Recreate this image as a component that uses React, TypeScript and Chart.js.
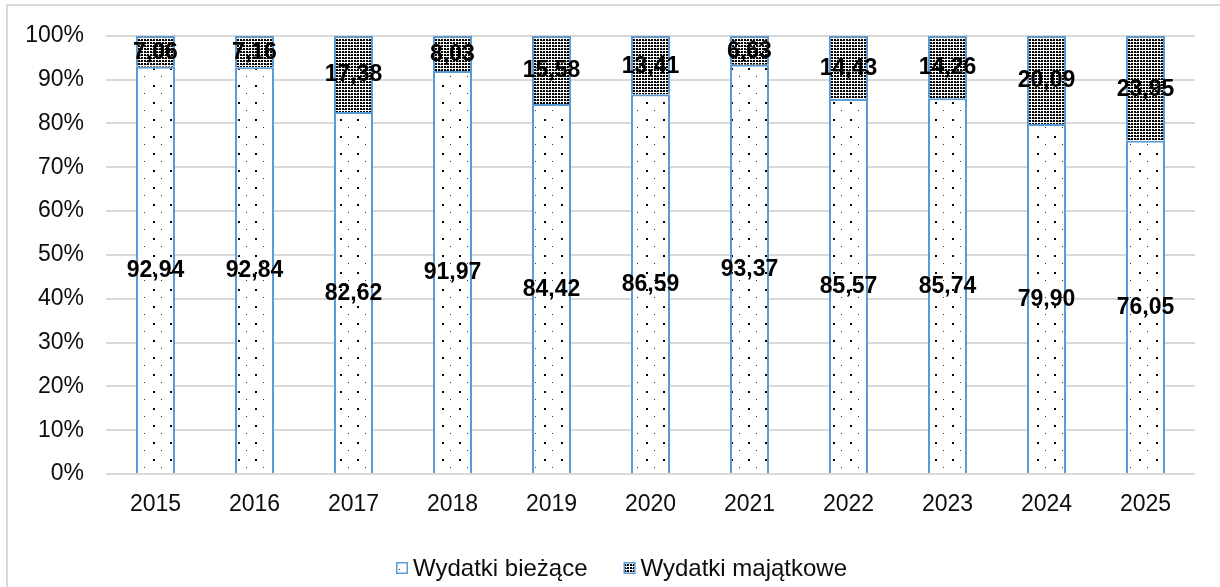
import React, { useEffect, useRef } from 'react';
import { Chart, registerables } from 'chart.js';

Chart.register(...registerables);

// ---- data ----
const years = ['2015', '2016', '2017', '2018', '2019', '2020', '2021', '2022', '2023', '2024', '2025'];
const currentExpenses = [92.94, 92.84, 82.62, 91.97, 84.42, 86.59, 93.37, 85.57, 85.74, 79.9, 76.05];
const capitalExpenses = [7.06, 7.16, 17.38, 8.03, 15.58, 13.41, 6.63, 14.43, 14.26, 20.09, 23.95];
const seriesNames = ['Wydatki bieżące', 'Wydatki majątkowe'];
const yMin = 0;
const yMax = 100;
const yStep = 10;

// ---- styles ----
const FONT_FAMILY = 'Arial, "Liberation Sans", sans-serif';
const TEXT_COLOR = '#0d0d0d';
const BORDER_BLUE = '#5B9BD5';
const GRID_COLOR = '#d9d9d9';
const W = 1220;
const H = 587;
const X_AXIS_H = 60;

function makeSparsePattern(ctx: CanvasRenderingContext2D): CanvasPattern | string {
  const c = document.createElement('canvas');
  c.width = 17;
  c.height = 17;
  const g = c.getContext('2d');
  if (!g) return '#fff';
  g.fillStyle = '#ffffff';
  g.fillRect(0, 0, 17, 17);
  g.fillStyle = '#000000';
  g.fillRect(0, 0, 2, 2);
  g.fillStyle = '#333333';
  g.fillRect(8, 8, 1, 1);
  return ctx.createPattern(c, 'repeat') || '#fff';
}

function makeDensePattern(ctx: CanvasRenderingContext2D): CanvasPattern | string {
  const c = document.createElement('canvas');
  c.width = 6;
  c.height = 3;
  const g = c.getContext('2d');
  if (!g) return '#888';
  g.fillStyle = '#ffffff';
  g.fillRect(0, 0, 6, 3);
  g.fillStyle = '#000000';
  g.fillRect(0, 0, 2, 2);
  g.fillRect(3, 0, 2, 2);
  g.fillStyle = '#555555';
  g.fillRect(2, 1, 1, 1);
  return ctx.createPattern(c, 'repeat') || '#888';
}

const framePlugin = {
  id: 'frame',
  beforeDraw(chart: any) {
    const ctx = chart.ctx as CanvasRenderingContext2D;
    ctx.save();
    ctx.fillStyle = '#ffffff';
    ctx.fillRect(0, 0, chart.width, chart.height);
    ctx.strokeStyle = GRID_COLOR;
    ctx.lineWidth = 2;
    ctx.beginPath();
    ctx.moveTo(7, chart.height);
    ctx.lineTo(7, 5);
    ctx.lineTo(chart.width, 5);
    ctx.stroke();
    ctx.restore();
  },
};

const valueLabelsPlugin = {
  id: 'valueLabels',
  afterDatasetsDraw(chart: any) {
    const ctx = chart.ctx as CanvasRenderingContext2D;
    ctx.save();
    ctx.font = `bold 23px ${FONT_FAMILY}`;
    ctx.fillStyle = '#000000';
    ctx.textAlign = 'center';
    ctx.textBaseline = 'middle';
    chart.data.datasets.forEach((ds: any, di: number) => {
      const meta = chart.getDatasetMeta(di);
      meta.data.forEach((el: any, i: number) => {
        const v = ds.data[i] as number;
        const p = el.getProps(['x', 'y', 'base'], true);
        ctx.fillText(v.toFixed(2).replace('.', ','), p.x, (p.y + p.base) / 2 + 1);
      });
    });
    ctx.restore();
  },
};

const legendPlugin = {
  id: 'customLegend',
  afterDraw(chart: any) {
    const ctx = chart.ctx as CanvasRenderingContext2D;
    ctx.save();
    ctx.font = `24px ${FONT_FAMILY}`;
    ctx.textBaseline = 'middle';
    ctx.textAlign = 'left';
    const box = 12;
    const gapText = 5;
    const gapItem = 36;
    const centerX = 621.5;
    const cy = 568;
    const items = chart.data.datasets.map((ds: any) => ({
      label: ds.label as string,
      fill: ds.backgroundColor,
      stroke: ds.borderColor,
    }));
    const widths = items.map((it: any) => box + gapText + ctx.measureText(it.label).width);
    const total = widths.reduce((a: number, b: number) => a + b, 0) + gapItem * (items.length - 1);
    let x = Math.round(centerX - total / 2);
    items.forEach((it: any, i: number) => {
      ctx.fillStyle = it.fill;
      ctx.fillRect(x, cy - box / 2, box, box);
      ctx.strokeStyle = it.stroke;
      ctx.lineWidth = 1.5;
      ctx.strokeRect(x + 0.75, cy - box / 2 + 0.75, box - 1.5, box - 1.5);
      ctx.fillStyle = TEXT_COLOR;
      ctx.fillText(it.label, x + box + gapText, cy + 1);
      x += widths[i] + gapItem;
    });
    ctx.restore();
  },
};

export default function App() {
  const canvasRef = useRef<HTMLCanvasElement | null>(null);

  useEffect(() => {
    const canvas = canvasRef.current;
    if (!canvas) return;
    const ctx = canvas.getContext('2d');
    if (!ctx) return;
    const sparse = makeSparsePattern(ctx);
    const dense = makeDensePattern(ctx);

    const chart = new Chart(ctx, {
      type: 'bar',
      data: {
        labels: years,
        datasets: [
          {
            label: seriesNames[0],
            data: currentExpenses,
            backgroundColor: sparse as any,
            borderColor: BORDER_BLUE,
            borderWidth: 2,
            barPercentage: 0.394,
            categoryPercentage: 1,
          },
          {
            label: seriesNames[1],
            data: capitalExpenses,
            backgroundColor: dense as any,
            borderColor: BORDER_BLUE,
            borderWidth: 2,
            barPercentage: 0.394,
            categoryPercentage: 1,
          },
        ],
      },
      options: {
        animation: false,
        responsive: false,
        maintainAspectRatio: false,
        devicePixelRatio: 1,
        layout: { padding: { left: 0, right: 25, top: 34, bottom: H - 474 - X_AXIS_H } },
        plugins: {
          legend: { display: false },
          tooltip: { enabled: false },
        },
        scales: {
          x: {
            stacked: true,
            grid: { display: false },
            border: { display: false },
            ticks: {
              color: TEXT_COLOR,
              font: { family: FONT_FAMILY, size: 23 },
              padding: 9,
            },
            afterFit: (s: any) => {
              s.height = X_AXIS_H;
            },
          },
          y: {
            stacked: true,
            min: yMin,
            max: yMax,
            ticks: {
              stepSize: yStep,
              color: TEXT_COLOR,
              font: { family: FONT_FAMILY, size: 23 },
              padding: 22,
              callback: (v: any) => `${v}%`,
            },
            grid: { color: GRID_COLOR, lineWidth: 2, drawTicks: false },
            border: { display: false },
            afterFit: (s: any) => {
              s.width = 106;
            },
          },
        },
      },
      plugins: [framePlugin, valueLabelsPlugin, legendPlugin],
    });

    return () => {
      chart.destroy();
    };
  }, []);

  return (
    <div style={{ position: 'absolute', left: 0, top: 0, width: W, height: H, background: '#fff' }}>
      <canvas ref={canvasRef} width={W} height={H} style={{ display: 'block', width: W, height: H }} />
    </div>
  );
}
